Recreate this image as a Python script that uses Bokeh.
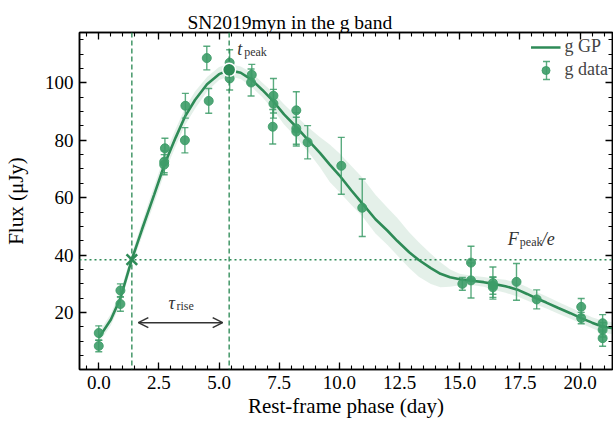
import numpy as np
from bokeh.plotting import figure
from bokeh.models import (Span, Label, Arrow, OpenHead, LinearAxis, Legend, LegendItem,
                          Range1d, FixedTicker, CustomJSTickFormatter)
from bokeh.embed import file_html
from bokeh.resources import INLINE

# ---------------- data ----------------
phase = [0.0, 0.0, 0.9, 0.9, 2.75, 2.72, 2.72, 3.6, 3.58, 4.49, 4.57, 5.44, 5.44,
         6.36, 6.33, 7.26, 7.26, 7.23, 8.21, 8.21, 8.21, 8.68, 10.08, 10.95,
         15.11, 15.47, 15.47, 16.38, 16.38, 16.38, 17.36, 18.2, 20.05, 20.05,
         20.94, 20.94, 20.94]
flux = [12.9, 8.4, 27.7, 23.0, 77.2, 72.5, 71.5, 92.0, 80.0, 108.6, 93.7, 107.0, 101.5,
        102.8, 100.1, 95.5, 92.7, 84.7, 90.4, 84.1, 83.0, 79.3, 71.1, 56.5,
        30.0, 37.4, 31.2, 30.3, 29.4, 28.8, 30.7, 24.6, 22.0, 18.1,
        16.3, 14.0, 11.1]
flux_err = [2.5, 2.0, 2.3, 2.5, 3.5, 3.8, 3.5, 4.3, 4.4, 4.1, 4.3, 4.5, 4.0,
            3.6, 4.7, 6.0, 5.0, 6.0, 6.5, 5.5, 5.0, 5.8, 9.9, 10.0,
            2.2, 5.7, 6.1, 5.6, 3.0, 3.5, 6.4, 3.3, 2.9, 2.0,
            3.0, 2.5, 2.8]

gp_x = [0.0, 0.5, 0.9, 1.375, 1.8, 2.3, 2.75, 3.2, 3.6, 4.0, 4.5, 5.0, 5.42, 5.9,
        6.36, 6.8, 7.26, 7.7, 8.2, 8.7, 9.2, 9.6, 10.0, 10.5, 10.95, 11.5, 12.0,
        12.4, 12.9, 13.3, 13.8, 14.2, 14.6, 15.0, 15.5, 16.0, 16.4, 16.9, 17.4,
        17.8, 18.2, 18.6, 19.1, 19.6, 20.05, 20.5, 20.95, 21.4]
gp_y = [11.2, 17.5, 25.0, 38.5, 49.0, 61.0, 72.0, 81.0, 88.5, 94.0, 99.5, 103.0, 104.4, 103.5,
        101.0, 97.5, 93.5, 89.0, 84.7, 80.0, 75.5, 71.5, 67.8, 62.5, 58.0, 52.5, 48.5,
        45.0, 41.0, 38.3, 35.5, 33.5, 32.3, 31.6, 31.1, 30.6, 30.0, 29.2, 28.0,
        26.5, 24.9, 23.5, 21.6, 19.8, 18.1, 16.5, 15.1, 14.5]
gp_lo = [9.5, 15.5, 23.0, 36.5, 46.5, 58.0, 69.0, 78.0, 85.5, 91.0, 97.0, 101.0, 102.3, 101.3,
         98.5, 95.0, 90.5, 85.5, 81.0, 76.0, 70.5, 65.5, 62.0, 57.5, 53.5, 47.5, 43.5,
         40.0, 35.5, 32.5, 30.0, 28.8, 29.0, 29.5, 29.6, 29.0, 28.0, 26.9, 25.6,
         24.2, 22.7, 21.4, 19.6, 17.9, 16.2, 14.6, 13.0, 12.4]
gp_hi = [13.0, 19.5, 27.5, 40.5, 51.5, 64.0, 75.0, 84.0, 91.5, 97.0, 102.0, 105.5, 106.5, 105.7,
         103.5, 100.0, 96.5, 92.5, 88.5, 84.5, 81.0, 78.5, 75.5, 71.0, 67.0, 61.0, 56.5,
         53.0, 48.0, 44.5, 40.5, 37.5, 35.0, 33.5, 32.8, 32.4, 31.9, 31.4, 30.4,
         28.9, 27.2, 25.7, 23.7, 21.8, 20.0, 18.4, 17.2, 16.6]

t_rise = 1.375
t_peak = 5.42
f_peak = 104.5
x_ticks = [0.0, 2.5, 5.0, 7.5, 10.0, 12.5, 15.0, 17.5, 20.0]
y_ticks = [20, 40, 60, 80, 100]

# ---------------- style ----------------
GREEN = "#2e8b57"
PT = "#3d9c68"
FONT = "Liberation Serif"

p = figure(width=613, height=422, output_backend="svg", toolbar_location=None,
           x_range=Range1d(-0.8, 21.35), y_range=Range1d(0.2, 117.5),
           min_border_left=79, min_border_right=1, min_border_top=32, min_border_bottom=53,
           x_axis_label="Rest-frame phase (day)", y_axis_label="Flux (μJy)")
p.title.text = "SN2019myn in the g band"
p.title.text_font = FONT
p.title.text_font_size = "19.5px"
p.title.text_font_style = "normal"
p.title.text_color = "black"
p.title.align = "left"
p.title.offset = 108
p.title.standoff = 0
p.xgrid.visible = False
p.ygrid.visible = False
p.outline_line_color = "black"
p.outline_line_width = 1.5
p.background_fill_color = "white"
p.border_fill_color = "white"

def style_axis(ax, show_labels=True):
    ax.axis_line_width = 1.5
    ax.axis_line_color = "black"
    ax.major_tick_in = 7
    ax.major_tick_out = 0
    ax.minor_tick_in = 4
    ax.minor_tick_out = 0
    ax.major_tick_line_width = 1.3
    ax.minor_tick_line_width = 1.1
    ax.major_tick_line_color = "black"
    ax.minor_tick_line_color = "black"
    ax.major_label_text_font = FONT
    ax.major_label_text_font_size = "19px" if show_labels else "0px"
    ax.major_label_text_color = "black"
    ax.axis_label_text_font = FONT
    ax.axis_label_text_font_size = "21px"
    ax.axis_label_text_font_style = "normal"
    ax.axis_label_text_color = "black"
    if not show_labels:
        ax.major_label_standoff = 0
        ax.major_label_text_alpha = 0

xticker = FixedTicker(ticks=x_ticks, minor_ticks=list(np.arange(-0.5, 21.5, 0.5)))
yticker = FixedTicker(ticks=y_ticks, minor_ticks=list(np.arange(5, 117, 5)))

p.xaxis.ticker = xticker
p.yaxis.ticker = yticker
p.xaxis.formatter = CustomJSTickFormatter(code="return tick.toFixed(1);")
style_axis(p.xaxis[0])
style_axis(p.yaxis[0])
p.xaxis.major_label_standoff = 6
p.yaxis.major_label_standoff = 6
p.xaxis.axis_label_standoff = 2
p.yaxis.axis_label_standoff = 14

top_ax = LinearAxis(ticker=xticker)
right_ax = LinearAxis(ticker=yticker)
style_axis(top_ax, False)
style_axis(right_ax, False)
p.add_layout(top_ax, "above")
p.add_layout(right_ax, "right")

# band and GP line
p.varea(x=gp_x, y1=gp_lo, y2=gp_hi, fill_color=GREEN, fill_alpha=0.13)
gp_r = p.line(gp_x, gp_y, line_color=GREEN, line_width=2.6)

# data with error bars
ph = np.array(phase); fl = np.array(flux); er = np.array(flux_err)
p.segment(ph, fl - er, ph, fl + er, line_color=PT, line_width=1.4, line_alpha=0.85)
p.scatter(ph, fl + er, marker="dash", size=7, line_color=PT, line_width=1.4, line_alpha=0.85)
p.scatter(ph, fl - er, marker="dash", size=7, line_color=PT, line_width=1.4, line_alpha=0.85)
pts_r = p.scatter(ph, fl, marker="circle", size=9, fill_color=PT, line_color=PT,
                  fill_alpha=0.9, line_alpha=0.9)

# markers for rise / peak
p.add_layout(Span(location=t_rise, dimension="height", line_color=GREEN, line_dash="5 3",
                  line_width=1.5, line_alpha=0.9))
p.add_layout(Span(location=t_peak, dimension="height", line_color=GREEN, line_dash="5 3",
                  line_width=1.5, line_alpha=0.9))
p.add_layout(Span(location=f_peak / np.e, dimension="width", line_color=GREEN,
                  line_dash="2 3", line_width=1.5))
p.scatter([t_rise], [f_peak / np.e], marker="x", size=15, line_color=GREEN, line_width=2.5)
p.scatter([t_peak], [f_peak], marker="circle", size=13, fill_color=GREEN,
          line_color="white", line_width=1.5)

# rise arrow
p.add_layout(Arrow(start=OpenHead(size=10, line_color="#333333", line_width=1.5),
                   end=OpenHead(size=10, line_color="#333333", line_width=1.5),
                   x_start=t_rise + 0.27, y_start=16.5, x_end=t_peak - 0.27, y_end=16.5,
                   line_color="#333333", line_width=1.5))

def lab(x, y, text, size, style="italic", xo=0, yo=0, color="#333333"):
    p.add_layout(Label(x=x, y=y, text=text, x_offset=xo, y_offset=yo,
                       text_font=FONT, text_font_size=size, text_font_style=style,
                       text_color=color, text_baseline="alphabetic"))

lab(t_peak, 111.8, "t", "18px", xo=8)
lab(t_peak, 111.8, "peak", "12px", style="normal", xo=15, yo=-3)
lab((t_rise + t_peak) / 2, 23.2, "τ", "18px", xo=-12)
lab((t_rise + t_peak) / 2, 23.2, "rise", "12px", style="normal", xo=-4, yo=-3)
lab(17.0, 45.5, "F", "18px", xo=0)
lab(17.0, 45.5, "peak", "12px", style="normal", xo=12, yo=-3)
lab(17.0, 45.5, "/e", "18px", xo=34)

legend = Legend(items=[LegendItem(label="g GP", renderers=[gp_r]),
                       LegendItem(label="g data", renderers=[pts_r])],
                location="top_right", background_fill_alpha=0, border_line_alpha=0,
                label_text_font=FONT, label_text_font_size="18px", glyph_width=30,
                glyph_height=20, spacing=2, padding=4, margin=0, label_standoff=4)
p.add_layout(legend)

# error-bar symbol of the legend entry (frame-relative screen units)
LX, LY = 467, 299
for (xs, ys, xe, ye) in [(LX, LY - 9, LX, LY + 9), (LX - 3.5, LY - 9, LX + 3.5, LY - 9),
                         (LX - 3.5, LY + 9, LX + 3.5, LY + 9)]:
    p.add_layout(Arrow(start=None, end=None, x_start=xs, y_start=ys, x_end=xe, y_end=ye,
                       start_units="screen", end_units="screen",
                       line_color=PT, line_width=1.4, line_alpha=0.85))

open("out.html", "w").write(file_html(p, INLINE))
